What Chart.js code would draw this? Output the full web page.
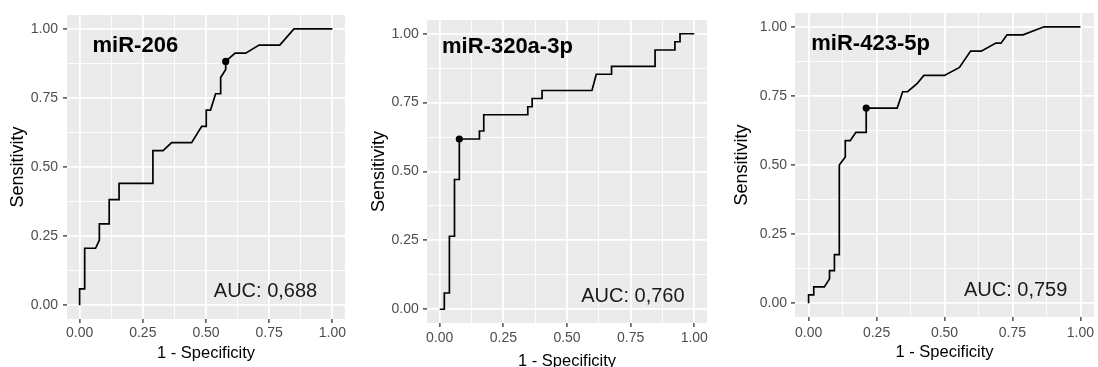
<!DOCTYPE html>
<html><head><meta charset="utf-8">
<script src="https://cdn.jsdelivr.net/npm/chart.js@4.4.1/dist/chart.umd.min.js"></script>
<style>
html,body{margin:0;padding:0;background:#fff;overflow:hidden;width:1098px;height:367px;position:relative;}
canvas{position:absolute;top:0;}
</style></head><body>
<canvas id="c1" width="366" height="367" style="left:0px;width:366px;height:367px"></canvas>
<canvas id="c2" width="366" height="380" style="left:366px;width:366px;height:380px"></canvas>
<canvas id="c3" width="366" height="367" style="left:732px;width:366px;height:367px"></canvas>
<script>
// ---- data ----
const majorTicks = [0, 0.25, 0.5, 0.75, 1];
const gridValues = [0, 0.125, 0.25, 0.375, 0.5, 0.625, 0.75, 0.875, 1];
const xAxisTitle = '1 - Specificity';
const yAxisTitle = 'Sensitivity';

const panelNames = ['miR-206', 'miR-320a-3p', 'miR-423-5p'];
const aucLabels = ['AUC: 0,688', 'AUC: 0,760', 'AUC: 0,759'];

const mir206Fpr = [0,0,0.02,0.02,0.063,0.078,0.078,0.117,0.117,0.156,0.156,0.29,0.29,0.33,0.364,0.443,0.483,0.501,0.501,0.518,0.538,0.558,0.558,0.578,0.578,0.615,0.657,0.71,0.792,0.848,1];
const mir206Tpr = [0,0.059,0.059,0.206,0.206,0.235,0.294,0.294,0.382,0.382,0.441,0.441,0.559,0.559,0.588,0.588,0.647,0.647,0.706,0.706,0.765,0.765,0.824,0.853,0.882,0.912,0.912,0.941,0.941,1,1];
const mir206Cut = [0.578, 0.882];

const mir320Fpr = [0,0.018,0.018,0.038,0.038,0.058,0.058,0.077,0.077,0.156,0.156,0.173,0.173,0.346,0.346,0.363,0.363,0.402,0.402,0.598,0.615,0.675,0.675,0.846,0.846,0.924,0.924,0.944,0.944,1];
const mir320Tpr = [0,0,0.059,0.059,0.265,0.265,0.471,0.471,0.618,0.618,0.647,0.647,0.706,0.706,0.735,0.735,0.765,0.765,0.794,0.794,0.853,0.853,0.882,0.882,0.941,0.941,0.971,0.971,1,1];
const mir320Cut = [0.077, 0.618];

const mir423Fpr = [0,0,0.019,0.019,0.058,0.077,0.077,0.095,0.095,0.113,0.113,0.135,0.135,0.153,0.174,0.212,0.212,0.326,0.346,0.364,0.399,0.424,0.5,0.555,0.596,0.635,0.689,0.708,0.73,0.789,0.866,1];
const mir423Tpr = [0,0.03,0.03,0.059,0.059,0.088,0.118,0.118,0.176,0.176,0.5,0.529,0.588,0.588,0.618,0.618,0.706,0.706,0.765,0.765,0.794,0.824,0.824,0.853,0.912,0.912,0.941,0.941,0.971,0.971,1,1];
const mir423Cut = [0.212, 0.706];

// ---- per-panel layout (styles) ----
const layouts = [
  {id:'c1', pad:{left:0,right:21,top:15,bottom:0}, yW:67, xH:48, yTitlePad:9, xTitlePad:4.8, yTickPad:5, xTickPad:2,
   name:[0.051,0.915], auc:[0.94,0.029]},
  {id:'c2', pad:{left:0,right:25,top:20,bottom:0}, yW:61, xH:57, yTitlePad:4, xTitlePad:10, yTickPad:4.3, xTickPad:2.6,
   name:[0.009,0.929], auc:[0.962,0.025]},
  {id:'c3', pad:{left:0,right:3,top:13,bottom:0}, yW:63, xH:50, yTitlePad:1, xTitlePad:5.8, yTickPad:4, xTickPad:3.6,
   name:[0.01,0.916], auc:[0.952,0.025]}
];

const series = [
  [mir206Fpr, mir206Tpr, mir206Cut],
  [mir320Fpr, mir320Tpr, mir320Cut],
  [mir423Fpr, mir423Tpr, mir423Cut]
];

const FONT = "'Liberation Sans', Arial, sans-serif";

function isMajor(v){ return majorTicks.some(t => Math.abs(t - v) < 1e-9); }

function axisOpts(axis, L){
  const isX = axis === 'x';
  return {
    type:'linear', min:-0.05, max:1.05,
    afterBuildTicks: s => { s.ticks = gridValues.map(v => ({value:v})); },
    afterFit: s => { if (isX) s.height = L.xH; else s.width = L.yW; },
    border:{display:false},
    grid:{
      color:'#FFFFFF',
      lineWidth: c => (c.tick && isMajor(c.tick.value)) ? 1.8 : 0.9,
      drawTicks:true, tickLength:4,
      tickColor: c => (c.tick && isMajor(c.tick.value)) ? '#333333' : 'rgba(0,0,0,0)',
      tickWidth: 1.3
    },
    ticks:{
      autoSkip:false, maxRotation:0, minRotation:0,
      padding: isX ? L.xTickPad : L.yTickPad,
      color:'#4D4D4D', font:{family:FONT, size:14},
      callback: v => isMajor(v) ? v.toFixed(2) : ''
    },
    title:{
      display:true, text: isX ? xAxisTitle : yAxisTitle, color:'#000000',
      font:{family:FONT, size: isX ? 16.5 : 18, lineHeight:1},
      padding: isX ? {top:0,bottom:L.xTitlePad} : {top:L.yTitlePad,bottom:0}
    }
  };
}

const bgPlugin = {
  id:'bg',
  beforeDraw(chart){
    const a = chart.chartArea, ctx = chart.ctx;
    ctx.save(); ctx.fillStyle = '#EBEBEB';
    ctx.fillRect(a.left, a.top, a.right - a.left, a.bottom - a.top);
    ctx.restore();
  }
};

function labelPlugin(i, L){
  return {
    id:'labels'+i,
    afterDatasetsDraw(chart){
      const ctx = chart.ctx, xs = chart.scales.x, ys = chart.scales.y;
      ctx.save();
      ctx.fillStyle = '#000000';
      ctx.textBaseline = 'alphabetic';
      ctx.font = "bold 22px " + FONT;
      ctx.textAlign = 'left';
      ctx.fillText(panelNames[i], xs.getPixelForValue(L.name[0]), ys.getPixelForValue(L.name[1]));
      ctx.fillStyle = '#1a1a1a';
      ctx.font = "20px " + FONT;
      ctx.textAlign = 'right';
      ctx.fillText(aucLabels[i], xs.getPixelForValue(L.auc[0]), ys.getPixelForValue(L.auc[1]));
      ctx.restore();
    }
  };
}

layouts.forEach((L, i) => {
  const [fpr, tpr, cut] = series[i];
  new Chart(document.getElementById(L.id), {
    type:'scatter',
    data:{
      datasets:[
        {data: fpr.map((x, k) => ({x, y: tpr[k]})), showLine:true, borderColor:'#000000', borderWidth:1.7,
         pointRadius:0, fill:false, tension:0, order:2},
        {data:[{x:cut[0], y:cut[1]}], pointRadius:3.6, backgroundColor:'#000000', borderColor:'#000000',
         borderWidth:0, showLine:false, order:1}
      ]
    },
    options:{
      responsive:false, animation:false, devicePixelRatio:1,
      layout:{padding:L.pad},
      plugins:{legend:{display:false}, tooltip:{enabled:false}},
      scales:{x:axisOpts('x', L), y:axisOpts('y', L)}
    },
    plugins:[bgPlugin, labelPlugin(i, L)]
  });
});
</script>
</body></html>
